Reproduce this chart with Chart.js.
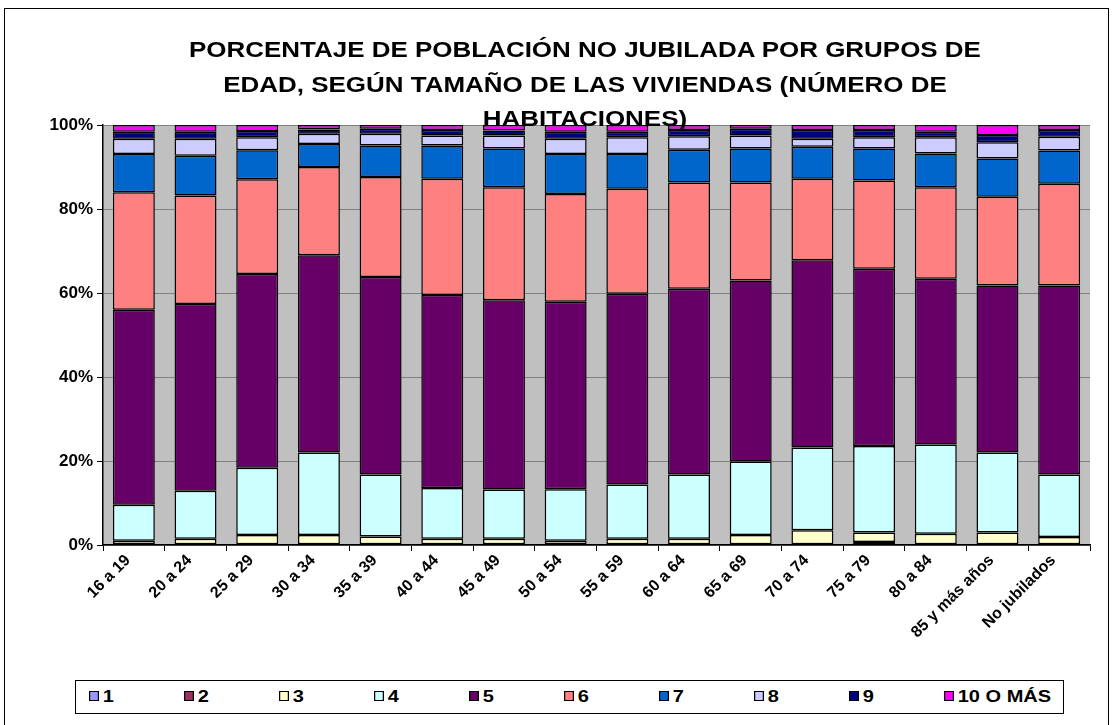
<!DOCTYPE html>
<html>
<head>
<meta charset="utf-8">
<script src="https://cdn.jsdelivr.net/npm/chart.js@4.4.1/dist/chart.umd.min.js"></script>
<style>
    body { margin: 0; background: #fff; font-family: "Liberation Sans", Arial, sans-serif; }
    #wrap { position: relative; width: 1115px; height: 725px; overflow: hidden; }
    #frame { position: absolute; left: 4px; top: 8px; width: 1103px; height: 740px; border: 1.5px solid #000; }
    #title { position: absolute; left: 0; top: 33px; width: 1170px; text-align: center; font-weight: bold; font-size: 22px; line-height: 34.5px; z-index: 3; transform: scaleX(1.18); transform-origin: 585px 0; }
    #chart { position: absolute; left: 0; top: 0; }
    #legend { position: absolute; left: 75px; top: 680px; width: 987px; height: 32px; border: 1px solid #000; background: #fff; z-index: 2; }
    .item { position: absolute; top: 7px; font-weight: bold; font-size: 16px; line-height: 17px; white-space: nowrap; transform: scaleX(1.25); transform-origin: 0 0; }
    .box { display: inline-block; width: 6px; height: 8px; border: 1px solid #000; margin-right: 3px; vertical-align: 1px; }
</style>
</head>
<body>
<div id="wrap">
    <div id="frame"></div>
    <canvas id="chart" width="1115" height="725"></canvas>
    <div id="title">PORCENTAJE DE POBLACIÓN NO JUBILADA POR GRUPOS DE<br>EDAD, SEGÚN TAMAÑO DE LAS VIVIENDAS (NÚMERO DE<br>HABITACIONES)</div>
    <div id="legend"></div>
</div>
<script>
// Age groups
const ageGroups = ['16 a 19', '20 a 24', '25 a 29', '30 a 34', '35 a 39', '40 a 44', '45 a 49',
    '50 a 54', '55 a 59', '60 a 64', '65 a 69', '70 a 74', '75 a 79', '80 a 84', '85 y más años', 'No jubilados'];

// Share (%) of each dwelling size (number of rooms)
const rooms1  = [0.1, 0.1, 0.1, 0.1, 0.1, 0.1, 0.1, 0.1, 0.1, 0.1, 0.1, 0.1, 0.2, 0.1, 0.1, 0.1];
const rooms2  = [0.1, 0.1, 0.1, 0.1, 0.1, 0.1, 0.1, 0.1, 0.1, 0.1, 0.1, 0.1, 0.5, 0.1, 0.1, 0.1];
const rooms3  = [0.8, 1.3, 2.2, 2.2, 1.8, 1.3, 1.3, 0.8, 1.3, 1.3, 2.2, 3.3, 2.3, 2.5, 2.8, 1.7];
const rooms4  = [8.6, 11.4, 16.0, 19.6, 14.8, 12.1, 11.7, 12.3, 12.9, 15.3, 17.5, 19.7, 20.6, 21.2, 19.0, 14.9];
const rooms5  = [46.4, 44.5, 46.1, 47.0, 47.0, 45.9, 45.1, 44.6, 45.4, 44.2, 43.1, 44.6, 42.2, 39.5, 39.8, 45.0];
const rooms6  = [28.0, 25.8, 22.6, 21.0, 23.8, 27.7, 26.9, 25.7, 25.0, 25.3, 23.3, 19.4, 21.0, 21.8, 21.1, 24.2];
const rooms7  = [9.1, 9.5, 6.9, 5.5, 7.5, 7.9, 9.2, 9.5, 8.3, 7.8, 8.1, 7.6, 7.6, 8.0, 9.1, 7.9];
const rooms8  = [3.6, 4.0, 3.1, 2.4, 2.8, 2.4, 3.1, 3.6, 4.0, 3.2, 3.1, 1.9, 2.7, 3.9, 3.9, 3.3];
const rooms9  = [1.7, 1.7, 1.5, 1.0, 1.2, 1.3, 1.2, 1.7, 1.3, 1.5, 1.6, 2.1, 1.7, 1.3, 1.7, 1.6];
const rooms10 = [1.6, 1.6, 1.4, 1.1, 0.9, 1.2, 1.3, 1.6, 1.6, 1.2, 0.9, 1.2, 1.2, 1.6, 2.4, 1.2];

const seriesNames = ['1', '2', '3', '4', '5', '6', '7', '8', '9', '10 O MÁS'];
const seriesColors = ['#9999FF', '#993366', '#FFFFCC', '#CCFFFF', '#660066', '#FF8080', '#0066CC', '#CCCCFF', '#000080', '#FF00FF'];
const yTicks = [0, 20, 40, 60, 80, 100];

const allSeries = [rooms1, rooms2, rooms3, rooms4, rooms5, rooms6, rooms7, rooms8, rooms9, rooms10];

const datasets = allSeries.map((values, i) => ({
    label: seriesNames[i],
    data: values,
    backgroundColor: seriesColors[i],
    borderColor: '#000',
    borderWidth: 1.5,
    borderSkipped: false,
    barPercentage: 0.68,
    categoryPercentage: 1
}));

// Grey plot area like the spreadsheet chart
const plotBackground = {
    id: 'plotBackground',
    beforeDraw(chart) {
        const { ctx, chartArea } = chart;
        ctx.save();
        ctx.fillStyle = '#C0C0C0';
        ctx.fillRect(chartArea.left, chartArea.top, chartArea.right - chartArea.left, chartArea.bottom - chartArea.top);
        ctx.restore();
    }
};

const tickFont = { family: '"Liberation Sans", Arial, sans-serif', size: 17, weight: 'bold' };

const chart = new Chart(document.getElementById('chart'), {
    type: 'bar',
    data: { labels: ageGroups, datasets: datasets },
    options: {
        responsive: false,
        animation: false,
        layout: { padding: { left: 10, top: 125, right: 25, bottom: 50 } },
        plugins: {
            legend: { display: false },
            title: { display: false },
            tooltip: { enabled: false }
        },
        scales: {
            x: {
                stacked: true,
                afterFit(scale) { scale.height = 130; },
                grid: { display: true, drawOnChartArea: false, drawTicks: true, tickLength: 6, color: '#000', offset: true },
                border: { color: '#000', width: 1.5 },
                ticks: { color: '#000', font: { ...tickFont, size: 16 }, maxRotation: 45, minRotation: 45, autoSkip: false, padding: 0, labelOffset: -6 }
            },
            y: {
                stacked: true,
                min: 0,
                max: 100,
                afterFit(scale) { scale.width = 93; },
                afterBuildTicks(scale) { scale.ticks = yTicks.map(v => ({ value: v })); },
                grid: { color: '#808080', lineWidth: 1, drawTicks: true, tickLength: 6, tickColor: '#000' },
                border: { color: '#000', width: 1.5 },
                ticks: { color: '#000', font: tickFont, padding: 4, callback: v => v + '%' }
            }
        }
    },
    plugins: [plotBackground]
});

// HTML legend built from the chart datasets
const legendEl = document.getElementById('legend');
chart.data.datasets.forEach((ds, i) => {
    const item = document.createElement('div');
    item.className = 'item';
    item.style.left = (13 + i * 95) + 'px';
    item.innerHTML = `<span class="box" style="background:${ds.backgroundColor}"></span>${ds.label}`;
    legendEl.appendChild(item);
});
</script>
</body>
</html>
